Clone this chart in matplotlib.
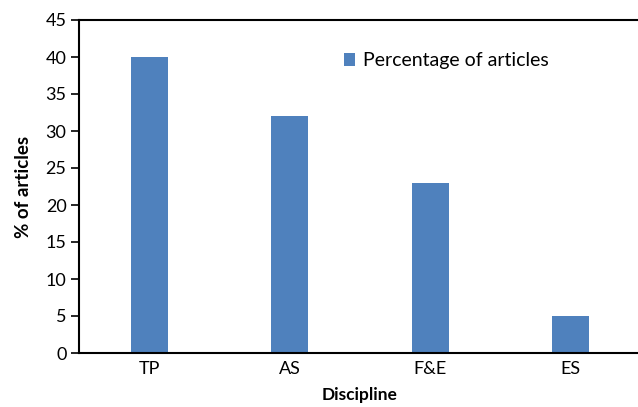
import matplotlib
matplotlib.use("Agg")
import matplotlib.pyplot as plt
from matplotlib.patches import Patch

plt.rcParams["font.family"] = ["Lato", "DejaVu Sans"]

disciplines = ["TP", "AS", "F&E", "ES"]
percent_articles = [40, 32, 23, 5]
y_ticks = [0, 5, 10, 15, 20, 25, 30, 35, 40, 45]

bar_color = "#4F81BD"

fig = plt.figure(figsize=(6.38, 4.07), dpi=100)
ax = fig.add_axes([79 / 638, 1 - 353 / 407, 562 / 638, 333 / 407])

x = list(range(len(disciplines)))
ax.bar(x, percent_articles, width=0.26, color=bar_color, zorder=2)

ax.set_xlim(-0.5, len(disciplines) - 0.5)
ax.set_ylim(0, 45)
ax.set_yticks(y_ticks)
ax.set_xticks(x)
ax.set_xticklabels(disciplines)
ax.tick_params(axis="y", length=6, width=1.2, labelsize=13, pad=3)
ax.tick_params(axis="x", length=0, labelsize=13, pad=6)
for side in ["left", "bottom", "top"]:
    ax.spines[side].set_linewidth(1.5)
ax.spines["right"].set_visible(False)

ax.set_xlabel("Discipline", fontsize=12.5, fontweight="bold", labelpad=7)
ax.set_ylabel("% of articles", fontsize=13.5, fontweight="bold", labelpad=10)

handle = Patch(facecolor=bar_color, edgecolor="none")
ax.legend([handle], ["Percentage of articles"], loc="upper left",
          bbox_to_anchor=(0.44, 0.955), frameon=False, fontsize=14,
          handlelength=0.6, handleheight=0.6, handletextpad=0.4)

fig.savefig("out.png", dpi=100)
